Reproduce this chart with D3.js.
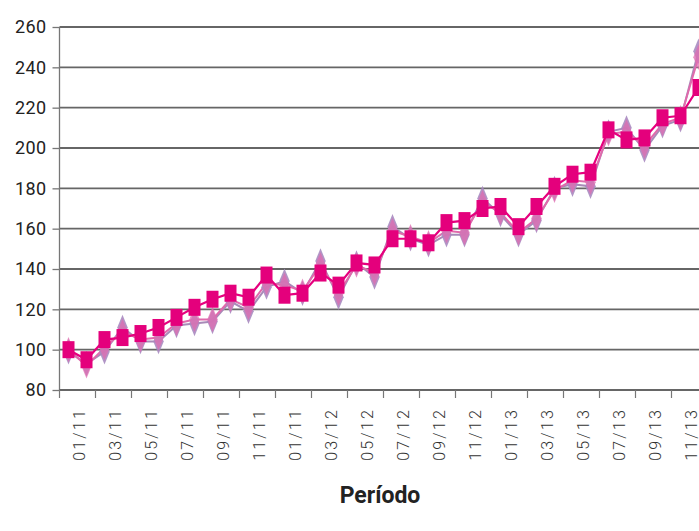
<!DOCTYPE html>
<html>
<head>
<meta charset="utf-8">
<script src="https://cdn.jsdelivr.net/npm/d3@7"></script>
<style>
  html, body { margin: 0; padding: 0; background: #fff; overflow: hidden; }
  svg { display: block; }
</style>
</head>
<body>
<svg id="chart" width="699" height="531"></svg>
<script>
// ---- data ----
const months = ["01/11","02/11","03/11","04/11","05/11","06/11","07/11","08/11","09/11","10/11","11/11","12/11",
                "01/12","02/12","03/12","04/12","05/12","06/12","07/12","08/12","09/12","10/12","11/12","12/12",
                "01/13","02/13","03/13","04/13","05/13","06/13","07/13","08/13","09/13","10/13","11/13","12/13"];
const tickLabels = ["01/11","03/11","05/11","07/11","09/11","11/11","01/11","03/12","05/12","07/12","09/12",
                    "11/12","01/13","03/13","05/13","07/13","09/13","11/13"];
const yTicks = [80,100,120,140,160,180,200,220,240,260];
const seriesSquares = [100,95,105,106,108,111,116,121,125,128,126,137,127,128,138,132,143,142,155,155,153,163,164,170,171,161,171,181,187,188,209,204,205,215,216,230];
const seriesLavender = [99,93,99,111,104,104,112,113,114,124,119,131,134,128,144,126,143,136,161,155,152,157,157,175,167,157,164,180,182,181,208,210,199,211,214,248];
const seriesPink = [100,92,101,109,105,106,113,115,115,125,121,133,132,129,142,128,142,138,159,156,153,159,158,173,168,158,165,179,184,183,207,208,201,212,215,245];
const xTitle = "Período";

// ---- layout ----
const svg = d3.select("#chart");
const mLeft = 59.5, bandW = 18, mTop = 27, mBottom = 390;
const x = d3.scaleBand().domain(months).range([mLeft, mLeft + bandW * months.length]).padding(0);
const y = d3.scaleLinear().domain([80, 260]).range([mBottom, mTop]);

// gridlines
svg.append("g").selectAll("line").data(yTicks.filter(d => d > 80)).join("line")
  .attr("x1", mLeft).attr("x2", 699).attr("y1", d => y(d)).attr("y2", d => y(d))
  .attr("stroke", "#666").attr("stroke-width", 1.8);

// y axis
const yAxis = svg.append("g").attr("transform", `translate(${mLeft},0)`)
  .call(d3.axisLeft(y).tickValues(yTicks).tickSize(7).tickPadding(6));
yAxis.select(".domain").attr("stroke", "#777").attr("stroke-width", 1.3).attr("d", `M0,${mTop}V${mBottom}`);
yAxis.selectAll(".tick line").attr("stroke", "#777").attr("stroke-width", 1.3);
yAxis.selectAll("text").attr("font-family", "Roboto, 'DejaVu Sans', sans-serif")
  .attr("font-size", 18).attr("fill", "#222").attr("letter-spacing", 0.4);

// x axis line and ticks
svg.append("line").attr("x1", mLeft).attr("x2", 699).attr("y1", mBottom).attr("y2", mBottom)
  .attr("stroke", "#666").attr("stroke-width", 1.8);
const tickCats = months.filter((d, i) => i % 2 === 0);
svg.append("g").selectAll("line").data(tickCats).join("line")
  .attr("x1", d => x(d)).attr("x2", d => x(d)).attr("y1", mBottom).attr("y2", mBottom + 8)
  .attr("stroke", "#777").attr("stroke-width", 1.2);
svg.append("g").selectAll("text").data(tickLabels).join("text")
  .attr("transform", (d, i) => `translate(${x(months[i * 2]) + bandW * 1.2},408) rotate(-90)`)
  .attr("text-anchor", "end").attr("dominant-baseline", "middle")
  .attr("font-family", "Roboto, 'DejaVu Sans', sans-serif").attr("font-size", 16)
  .attr("font-weight", 300)
  .attr("letter-spacing", 2.2).attr("fill", "#333")
  .text(d => d);

svg.append("text").attr("x", 380).attr("y", 503).attr("text-anchor", "middle")
  .attr("font-family", "Roboto, 'DejaVu Sans', sans-serif").attr("font-weight", "bold")
  .attr("font-size", 23).attr("fill", "#222").text(xTitle);

// series
const cx = (d, i) => x(months[i]) + x.bandwidth() / 2;
const lineGen = d3.line().x(cx).y(d => y(d));
const plot = svg.append("g");

function drawLine(data, color, w) {
  plot.append("path").datum(data).attr("d", lineGen).attr("fill", "none")
    .attr("stroke", color).attr("stroke-width", w);
}
function drawDiamonds(data, color, opacity) {
  plot.append("g").selectAll("path").data(data).join("path")
    .attr("d", d3.symbol().type(d3.symbolDiamond).size(95))
    .attr("transform", (d, i) => `translate(${cx(d, i)},${y(d)}) scale(1,1.4)`)
    .attr("fill", color).attr("opacity", opacity);
}
drawLine(seriesLavender, "#a88ab8", 2);
drawLine(seriesPink, "#e06aac", 2);
drawDiamonds(seriesLavender, "#a98ac0", 0.9);
drawDiamonds(seriesPink, "#df6cb0", 0.75);
drawLine(seriesSquares, "#e5007e", 2.2);
plot.append("g").selectAll("rect").data(seriesSquares).join("rect")
  .attr("x", (d, i) => cx(d, i) - 6).attr("y", d => y(d) - 8.5)
  .attr("width", 12).attr("height", 17)
  .attr("fill", "#e4007c");
</script>
</body>
</html>
